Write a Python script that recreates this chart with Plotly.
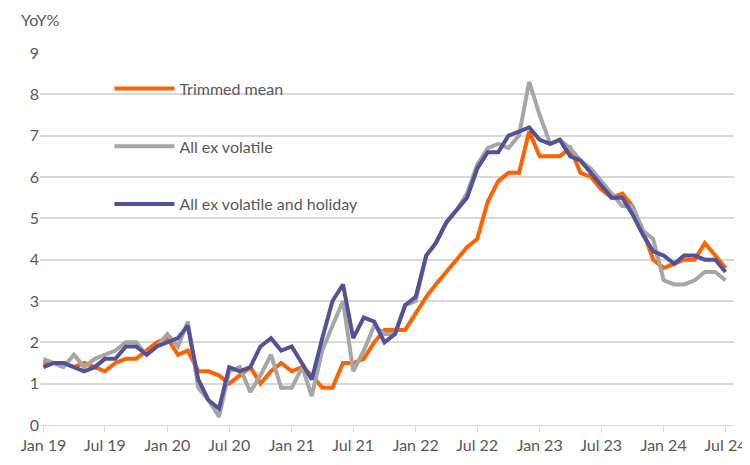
import plotly.graph_objects as go
import pandas as pd

months = pd.date_range("2019-01-01", "2024-07-01", freq="MS")

trimmed_mean = [1.5, 1.5, 1.5, 1.4, 1.5, 1.4, 1.3, 1.5, 1.6, 1.6, 1.8, 2.0,
                2.1, 1.7, 1.8, 1.3, 1.3, 1.2, 1.0, 1.2, 1.4, 1.0, 1.3, 1.5,
                1.3, 1.4, 1.2, 0.9, 0.9, 1.5, 1.5, 1.6, 2.0, 2.3, 2.3, 2.3,
                2.7, 3.1, 3.4, 3.7, 4.0, 4.3, 4.5, 5.4, 5.9, 6.1, 6.1, 7.1,
                6.5, 6.5, 6.5, 6.7, 6.1, 6.0, 5.7, 5.5, 5.6, 5.3, 4.7, 4.0,
                3.8, 3.9, 4.0, 4.0, 4.4, 4.1, 3.8]
all_ex_volatile = [1.6, 1.5, 1.4, 1.7, 1.4, 1.6, 1.7, 1.8, 2.0, 2.0, 1.7, 1.9,
                   2.2, 1.9, 2.5, 0.9, 0.6, 0.2, 1.3, 1.4, 0.8, 1.2, 1.7, 0.9,
                   0.9, 1.4, 0.7, 1.8, 2.4, 3.0, 1.3, 1.8, 2.4, 2.2, 2.2, 2.9,
                   3.0, 4.1, 4.4, 4.9, 5.2, 5.6, 6.3, 6.7, 6.8, 6.7, 7.0, 8.3,
                   7.5, 6.8, 6.9, 6.7, 6.4, 6.2, 5.9, 5.6, 5.3, 5.3, 4.7, 4.5,
                   3.5, 3.4, 3.4, 3.5, 3.7, 3.7, 3.5]
all_ex_vol_holiday = [1.4, 1.5, 1.5, 1.4, 1.3, 1.4, 1.6, 1.6, 1.9, 1.9, 1.7, 1.9,
                      2.0, 2.1, 2.4, 1.1, 0.6, 0.4, 1.4, 1.3, 1.4, 1.9, 2.1, 1.8,
                      1.9, 1.5, 1.1, 2.1, 3.0, 3.4, 2.1, 2.6, 2.5, 2.0, 2.2, 2.9,
                      3.1, 4.1, 4.4, 4.9, 5.2, 5.5, 6.2, 6.6, 6.6, 7.0, 7.1, 7.2,
                      6.9, 6.8, 6.9, 6.5, 6.4, 6.1, 5.8, 5.5, 5.5, 5.1, 4.6, 4.2,
                      4.1, 3.9, 4.1, 4.1, 4.0, 4.0, 3.7]

series = [("Trimmed mean", trimmed_mean, "#FF6200"),
          ("All ex volatile", all_ex_volatile, "#A6A6A6"),
          ("All ex volatile and holiday", all_ex_vol_holiday, "#525199")]

fig = go.Figure()
for i, (name, vals, col) in enumerate(series):
    fig.add_trace(go.Scatter(x=months, y=vals, name=name, mode="lines",
                             legendgroup=str(i),
                             line=dict(color=col, width=4)))

fig.update_layout(
    width=750, height=465,
    margin=dict(l=32, r=22, t=45, b=48),
    paper_bgcolor="white", plot_bgcolor="white",
    font=dict(family="Lato", size=16, color="#595959"),
    legend=dict(x=0.1, y=0.95, xanchor="left", yanchor="top",
                tracegroupgap=34, itemwidth=60, bgcolor="rgba(0,0,0,0)",
                font=dict(size=16, color="#595959")),
    xaxis=dict(range=[months[0] - pd.Timedelta(days=10), months[-1] + pd.Timedelta(days=25)],
               dtick="M6", tick0="2019-01-01", tickformat="%b %y",
               showgrid=False, showline=True, linecolor="#d9d9d9",
               ticks="outside", tickcolor="#d9d9d9", ticklen=6),
    yaxis=dict(range=[0, 9], dtick=1, gridcolor="#d9d9d9", gridwidth=1.5,
               zeroline=False, ticks=""),
    annotations=[dict(text="YoY%", xref="paper", yref="paper", x=-0.03, y=1.06,
                      xanchor="left", yanchor="bottom", showarrow=False,
                      font=dict(size=16, color="#595959"))],
)

fig.write_html("out.html")
